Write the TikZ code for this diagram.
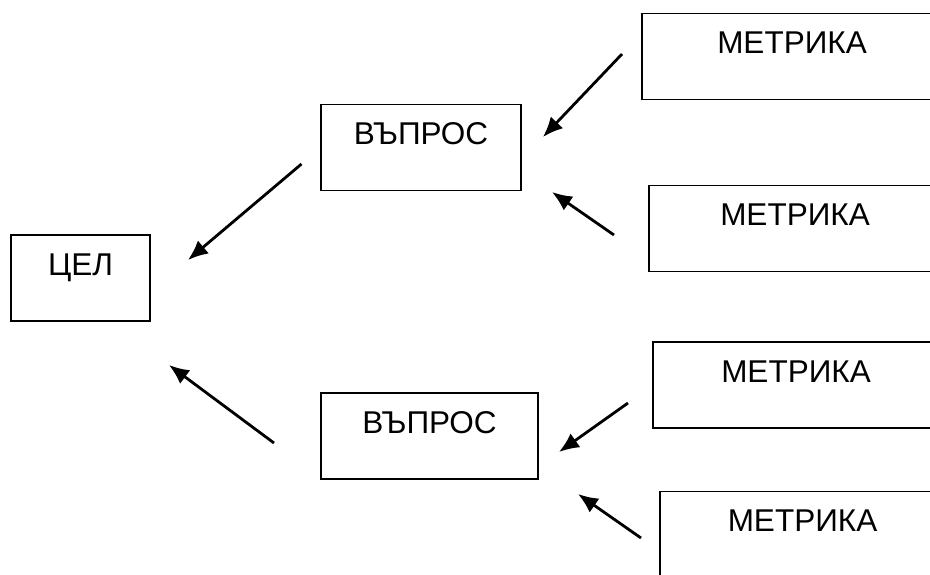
\documentclass[tikz,border=0pt]{standalone}
\usepackage{fontspec}
\setmainfont{Liberation Sans}
\usetikzlibrary{arrows.meta}

\tikzset{
  box/.style={draw, line width=1.1pt, inner sep=0pt, text height=40pt, text depth=46pt, font=\fontsize{31.5}{36}\selectfont},
  arr/.style={-{Latex[length=20pt,width=17pt]}, line width=2.8pt}
}

\begin{document}
\begin{tikzpicture}[x=1pt, y=-1pt]
        \useasboundingbox (0,0) rectangle (930,574);
        \clip (0,0) rectangle (930,574);
        \node[box, minimum width=139pt] (goal) at (80.5,278) {ЦЕЛ};
        \node[box, minimum width=200pt] (q1) at (421,147.5) {ВЪПРОС};
        \node[box, minimum width=217pt] (q2) at (429.5,436) {ВЪПРОС};
        \node[box, minimum width=300pt] (m1) at (792,56.5) {МЕТРИКА};
        \node[box, minimum width=292pt] (m2) at (795,228.5) {МЕТРИКА};
        \node[box, minimum width=286pt] (m3) at (796,385) {МЕТРИКА};
        \node[box, minimum width=285pt] (m4) at (802.5,534.5) {МЕТРИКА};
        % free ends of the arrows
        \coordinate (q1-out) at (301.5,164);
        \coordinate (goal-in1) at (188,260);
        \coordinate (q2-out) at (274,443);
        \coordinate (goal-in2) at (169,365);
        \coordinate (m1-out) at (622,54);
        \coordinate (q1-in1) at (543,137);
        \coordinate (m2-out) at (614,235);
        \coordinate (q1-in2) at (552,192);
        \coordinate (m3-out) at (628,403);
        \coordinate (q2-in1) at (559,452);
        \coordinate (m4-out) at (641,538);
        \coordinate (q2-in2) at (578,494);
        \draw[arr] (q1-out) -- (goal-in1);
        \draw[arr] (q2-out) -- (goal-in2);
        \draw[arr] (m1-out) -- (q1-in1);
        \draw[arr] (m2-out) -- (q1-in2);
        \draw[arr] (m3-out) -- (q2-in1);
        \draw[arr] (m4-out) -- (q2-in2);
\end{tikzpicture}
\end{document}
